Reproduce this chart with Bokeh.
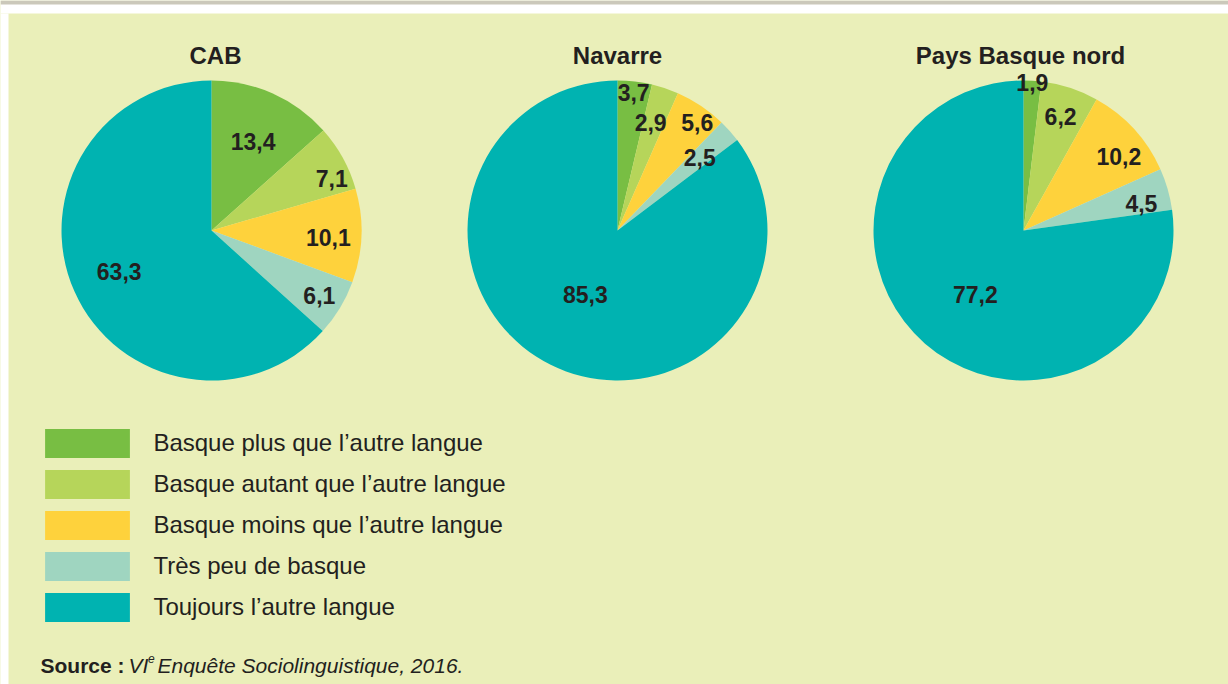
import math
from bokeh.plotting import figure
from bokeh.models import ColumnDataSource, Range1d, Legend, LegendItem
from bokeh.core.properties import value
from bokeh.embed import file_html
from bokeh.resources import INLINE

# ---------------- data ----------------
CATEGORIES = [
    "Basque plus que l\u2019autre langue",
    "Basque autant que l\u2019autre langue",
    "Basque moins que l\u2019autre langue",
    "Tr\u00e8s peu de basque",
    "Toujours l\u2019autre langue",
]
REGIONS = ["CAB", "Navarre", "Pays Basque nord"]
CAB = [13.4, 7.1, 10.1, 6.1, 63.3]
NAVARRE = [3.7, 2.9, 5.6, 2.5, 85.3]
PBN = [1.9, 6.2, 10.2, 4.5, 77.2]
LABELS_CAB = ["13,4", "7,1", "10,1", "6,1", "63,3"]
LABELS_NAVARRE = ["3,7", "2,9", "5,6", "2,5", "85,3"]
LABELS_PBN = ["1,9", "6,2", "10,2", "4,5", "77,2"]

# ---------------- style / layout ----------------
COLORS = ["#78be43", "#b6d55a", "#fed23c", "#9fd5c0", "#00b3b1"]
BG = "#eaefb9"
TXT = "#231f20"
FONT = "Liberation Sans"
W, H = 1228, 684


def fx(img_x):
    return img_x


def fy(img_y):
    return H - img_y


CENTERS_IMG = [(211, 230), (617, 230), (1023, 230)]
TITLE_X_IMG = [215, 617, 1020]
TITLE_Y_IMG = 55
RADIUS = 150
# label placement: distance from centre and angular nudge (degrees)
LABEL_R = [
    [98, 131, 117, 126, 101],
    [139, 113, 134, 110, 72],
    [148, 120, 121, 121, 80],
]
LABEL_DA = [
    [-1, -5.6, -1.4, 0, 0],
    [0, 1.5, -2.7, 0, 0],
    [0, 0, -4.5, -3, 4],
]

p = figure(width=W, height=H, output_backend="svg", toolbar_location=None,
           x_range=Range1d(0, W), y_range=Range1d(0, H), min_border=0)
p.axis.visible = False
p.grid.visible = False
p.outline_line_color = None
p.background_fill_color = BG
p.border_fill_color = BG

# white strip and grey rule above the panel
p.quad(left=[0], right=[W], bottom=[fy(13)], top=[H], fill_color="white", line_color=None)
p.quad(left=[0], right=[W], bottom=[fy(4)], top=[H], fill_color="#cbc8ba", line_color=None)
p.quad(left=[0], right=[fx(8)], bottom=[0], top=[fy(13)], fill_color="white", line_color=None)

renderers = []
for k, (vals, labs) in enumerate(zip([CAB, NAVARRE, PBN],
                                     [LABELS_CAB, LABELS_NAVARRE, LABELS_PBN])):
    cx, cy = fx(CENTERS_IMG[k][0]), fy(CENTERS_IMG[k][1])
    total = sum(vals)
    starts, ends, lx, ly = [], [], [], []
    cum = 0.0
    for i, v in enumerate(vals):
        a0 = math.pi / 2 - 2 * math.pi * cum / total
        a1 = math.pi / 2 - 2 * math.pi * (cum + v) / total
        starts.append(a0)
        ends.append(a1)
        mid = (a0 + a1) / 2 + math.radians(LABEL_DA[k][i])
        lx.append(cx + LABEL_R[k][i] * math.cos(mid))
        ly.append(cy + LABEL_R[k][i] * math.sin(mid))
        cum += v
    src = ColumnDataSource(dict(x=[cx] * len(vals), y=[cy] * len(vals),
                                start=starts, end=ends, color=COLORS,
                                lx=lx, ly=ly, lab=labs))
    r = p.wedge(x="x", y="y", radius=RADIUS, radius_units="screen",
                start_angle="start", end_angle="end", direction="clock",
                fill_color="color", line_color=None, source=src)
    renderers.append(r)
    p.text(x="lx", y="ly", text="lab", source=src, text_font=value(FONT),
           text_font_style="bold", text_font_size="23px", text_align="center",
           text_baseline="middle", text_color=TXT)
    p.text(x=[fx(TITLE_X_IMG[k])], y=[fy(TITLE_Y_IMG)], text=[REGIONS[k]],
           text_font=value(FONT), text_font_style="bold", text_font_size="24px",
           text_align="center", text_baseline="middle", text_color=TXT)

# legend: area glyphs are drawn inset by 10% of the glyph box
items = [LegendItem(label=c, renderers=[renderers[0]], index=i)
         for i, c in enumerate(CATEGORIES)]
legend = Legend(items=items, location=(34.4, 58.6), orientation="vertical",
                glyph_width=106, glyph_height=36, spacing=5, label_standoff=13,
                label_text_font=FONT, label_text_font_size="24px",
                label_text_color=TXT, label_height=36,
                padding=0, margin=0, border_line_color=None,
                background_fill_alpha=0)
p.add_layout(legend, "center")

# source line
base = fy(664.5)
p.text(x=[fx(40)], y=[base], text=["Source :"], text_font=value(FONT),
       text_font_style="bold", text_font_size="21px", text_align="left",
       text_baseline="alphabetic", text_color=TXT)
p.text(x=[fx(128)], y=[base], text=["VI"], text_font=value(FONT),
       text_font_style="italic", text_font_size="21px", text_align="left",
       text_baseline="alphabetic", text_color=TXT)
p.text(x=[fx(147.5)], y=[base + 6.5], text=["e"], text_font=value(FONT),
       text_font_style="italic", text_font_size="12px", text_align="left",
       text_baseline="alphabetic", text_color=TXT)
p.text(x=[fx(157)], y=[base], text=["Enqu\u00eate Sociolinguistique, 2016."],
       text_font=value(FONT), text_font_style="italic", text_font_size="21px",
       text_align="left", text_baseline="alphabetic", text_color=TXT)

open("out.html", "w").write(file_html(p, INLINE))
